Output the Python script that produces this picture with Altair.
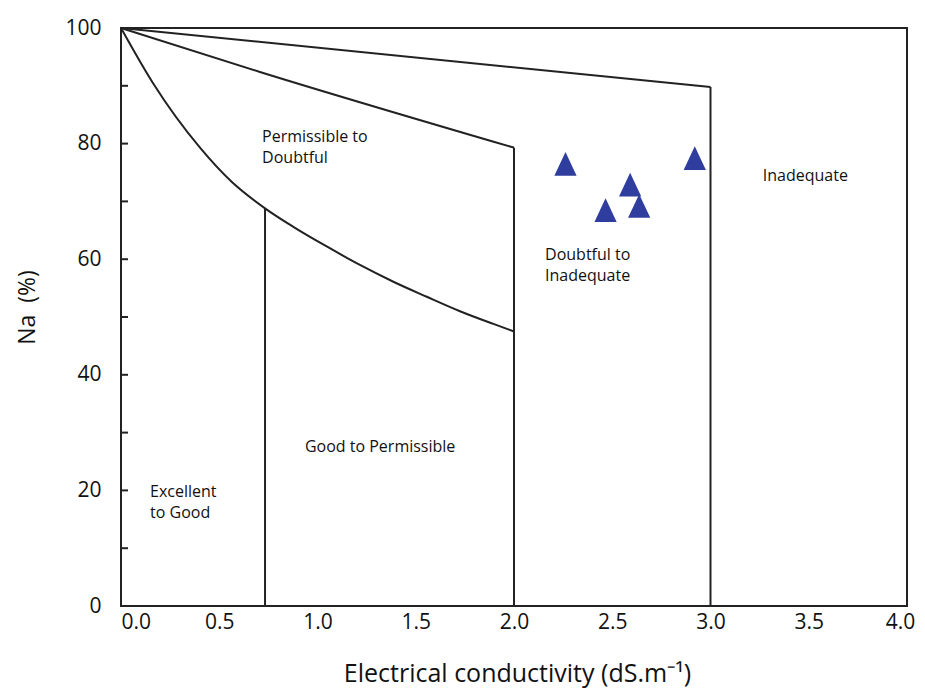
import altair as alt
import pandas as pd

# ---- data ----
# boundary curves (EC dS/m, Na %)
c1_x = [0.0, 3.0]
c1_y = [100.0, 89.8]
c2_x = [0.0, 0.707, 2.0]
c2_y = [100.0, 92.4, 79.3]
c3_x = [0.0, 0.164, 0.402, 0.563, 0.733, 0.877, 1.047, 1.216, 1.386, 1.556, 1.725, 1.895, 2.0]
c3_y = [100.0, 90.4, 79.3, 73.4, 68.8, 65.6, 62.2, 59.0, 56.1, 53.5, 51.0, 48.8, 47.5]
# vertical class boundaries
v_x = [0.733, 2.0, 3.0]
v_top = [68.8, 79.3, 89.8]
# samples
pt_ec = [2.262, 2.920, 2.591, 2.466, 2.637]
pt_na = [76.5, 77.5, 72.9, 68.5, 69.2]
# region labels
lab_text = [["Permissible to", "Doubtful"], ["Excellent", "to Good"], ["Good to Permissible"],
            ["Doubtful to", "Inadequate"], ["Inadequate"]]
lab_x = [0.718, 0.148, 0.936, 2.158, 3.266]
lab_y = [80.3, 18.8, 26.6, 59.9, 73.6]
# axis ticks
y_ticks = [0, 10, 20, 30, 40, 50, 60, 70, 80, 90, 100]
y_labels = [0, 20, 40, 60, 80, 100]
x_labels = [0.0, 0.5, 1.0, 1.5, 2.0, 2.5, 3.0, 3.5, 4.0]

FONT = "Open Sans"
INK = "#222222"

curves = pd.DataFrame(
    [{"seg": "c1", "o": i, "ec": x, "na": y} for i, (x, y) in enumerate(zip(c1_x, c1_y))]
    + [{"seg": "c2", "o": i, "ec": x, "na": y} for i, (x, y) in enumerate(zip(c2_x, c2_y))]
    + [{"seg": "c3", "o": i, "ec": x, "na": y} for i, (x, y) in enumerate(zip(c3_x, c3_y))]
)
verts = pd.DataFrame({"ec": v_x, "top": v_top, "bottom": [0.0] * len(v_x)})
pts = pd.DataFrame({"ec": pt_ec, "na": pt_na})
labs = pd.DataFrame({"t": lab_text, "ec": lab_x, "na": lab_y})
ticks = pd.DataFrame({"na": y_ticks})

xscale = alt.Scale(domain=[0, 4], nice=False, zero=False)
yscale = alt.Scale(domain=[0, 100], nice=False)

xaxis = alt.Axis(
    values=x_labels, format=".1f", grid=False, ticks=False, domain=False,
    labelFont=FONT, labelFontSize=21, labelColor="#111", labelPadding=5,
    labelAlign=alt.ExprRef(expr="datum.value == 0 ? 'left' : 'center'"),
    labelOffset=alt.ExprRef(expr="datum.value == 4 ? -7 : 0"),
    title="Electrical conductivity (dS.m\u207b\u00b9)", titleFont=FONT, titleFontSize=25,
    titleFontWeight="normal", titleColor="#111", titleX=396, titleY=75,
    titleBaseline="alphabetic", titleAlign="center",
)
yaxis = alt.Axis(
    values=y_labels, grid=False, ticks=False, domain=False,
    labelFont=FONT, labelFontSize=21, labelColor="#111", labelPadding=20,
    title="Na\u00a0\u00a0(%)", titleFont=FONT, titleFontSize=23, titleFontWeight="normal",
    titleColor="#111", titleX=-94, titleY=279, titleAlign="center", titleBaseline="middle",
    titleAngle=-90,
)

lines = alt.Chart(curves).mark_line(color=INK, strokeWidth=2, interpolate="monotone").encode(
    x=alt.X("ec:Q", scale=xscale, axis=xaxis),
    y=alt.Y("na:Q", scale=yscale, axis=yaxis),
    detail="seg:N",
    order="o:Q",
)
vrules = alt.Chart(verts).mark_rule(color=INK, strokeWidth=2).encode(
    x="ec:Q", y="bottom:Q", y2="top:Q"
)
tick_rules = alt.Chart(ticks).mark_rule(color=INK, strokeWidth=2).encode(
    y="na:Q", x=alt.value(0), x2=alt.value(7)
)
tri = alt.Chart(pts).mark_point(
    shape="M0,-1L-0.94,1L0.94,1Z", filled=True, size=560, color="#2E3D9E", opacity=1
).encode(x="ec:Q", y="na:Q")
texts = alt.Chart(labs).mark_text(
    align="left", baseline="alphabetic", font=FONT, fontSize=16, color="#111", lineHeight=21
).encode(x="ec:Q", y="na:Q", text="t")

chart = alt.layer(lines, vrules, tick_rules, tri, texts).properties(
    width=786, height=578,
    autosize=alt.AutoSizeParams(type="none"),
    padding={"left": 113, "top": 20, "right": 10, "bottom": 82},
    background="white",
).configure_view(stroke=INK, strokeWidth=2)

chart.save("out.html", embed_options={"renderer": "svg", "actions": False})
